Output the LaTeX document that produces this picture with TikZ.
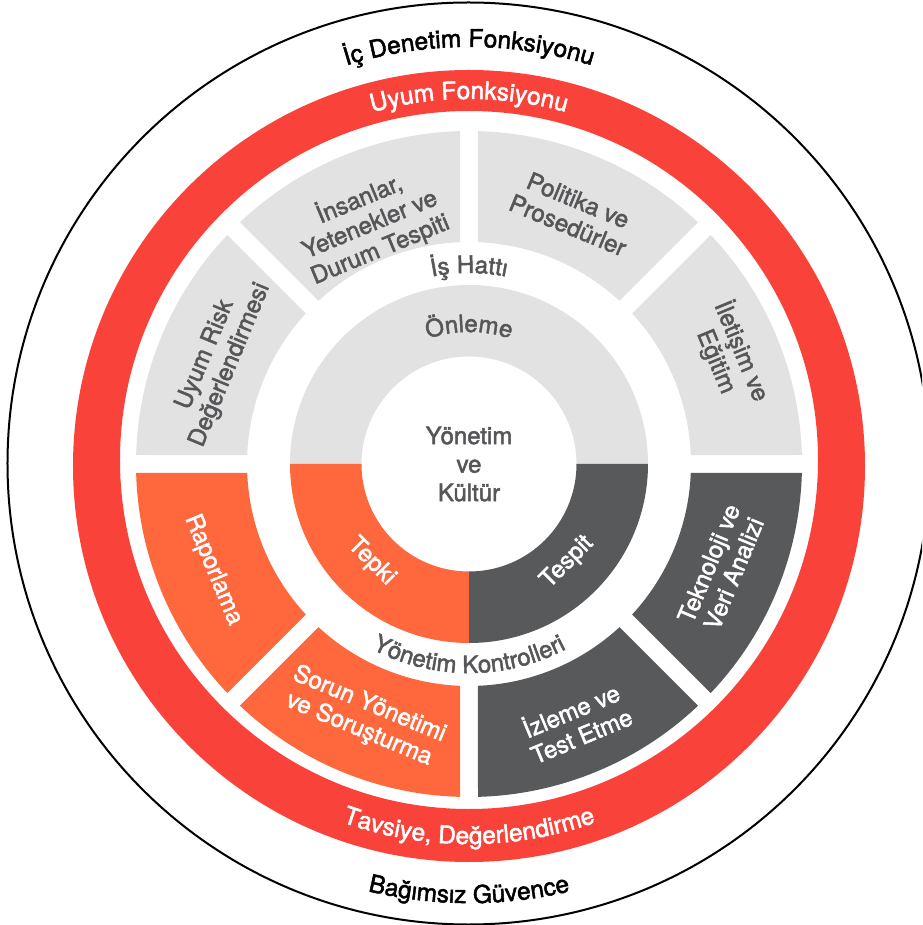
\documentclass[tikz,border=0pt]{standalone}
\usepackage{fontspec}
\setmainfont{TeX Gyre Heros}[FakeBold=2]
\usetikzlibrary{decorations.text}
\definecolor{ringred}{RGB}{249,66,58}
\definecolor{segorange}{RGB}{254,104,60}
\definecolor{segdark}{RGB}{88,89,91}
\definecolor{seggray}{RGB}{226,226,226}
\definecolor{txtgray}{RGB}{85,86,88}
\begin{document}
\begin{tikzpicture}[x=1pt,y=1pt,
  lbl/.style={font=\fontsize{24}{27}\selectfont, align=center, inner sep=0pt},
  graytxt/.style={lbl, text=txtgray},
  whitetxt/.style={lbl, text=white}]
\useasboundingbox (-469,-461) rectangle (453,464);
\clip (-469,-461) rectangle (453,464);

\draw[line width=2pt] (-0.5,0.5) circle[radius=461];
\fill[ringred, even odd rule] (0,-2) circle[radius=396] (0,4) circle[radius=349];

\fill[seggray] (1.55:333) arc[start angle=1.55, end angle=43.45, radius=333] -- (42.68:222) arc[start angle=42.68, end angle=2.32, radius=222] -- cycle;
\fill[seggray] (46.55:333) arc[start angle=46.55, end angle=88.45, radius=333] -- (87.68:222) arc[start angle=87.68, end angle=47.32, radius=222] -- cycle;
\fill[seggray] (91.55:333) arc[start angle=91.55, end angle=133.45, radius=333] -- (132.68:222) arc[start angle=132.68, end angle=92.32, radius=222] -- cycle;
\fill[seggray] (136.55:333) arc[start angle=136.55, end angle=178.45, radius=333] -- (177.68:222) arc[start angle=177.68, end angle=137.32, radius=222] -- cycle;
\fill[segorange] (181.55:333) arc[start angle=181.55, end angle=223.45, radius=333] -- (222.68:222) arc[start angle=222.68, end angle=182.32, radius=222] -- cycle;
\fill[segorange] (226.55:333) arc[start angle=226.55, end angle=268.45, radius=333] -- (267.68:222) arc[start angle=267.68, end angle=227.32, radius=222] -- cycle;
\fill[segdark] (271.55:333) arc[start angle=271.55, end angle=313.45, radius=333] -- (312.68:222) arc[start angle=312.68, end angle=272.32, radius=222] -- cycle;
\fill[segdark] (316.55:333) arc[start angle=316.55, end angle=358.45, radius=333] -- (357.68:222) arc[start angle=357.68, end angle=317.32, radius=222] -- cycle;

\fill[seggray] (0:179) arc[start angle=0, end angle=180, radius=179] -- (180:107.5) arc[start angle=180, end angle=0, radius=107.5] -- cycle;
\fill[segorange] (180:179) arc[start angle=180, end angle=270, radius=179] -- (270:107.5) arc[start angle=270, end angle=180, radius=107.5] -- cycle;
\fill[segdark] (270:179) arc[start angle=270, end angle=360, radius=179] -- (360:107.5) arc[start angle=360, end angle=270, radius=107.5] -- cycle;

\node[graytxt, font=\fontsize{24}{28.5}\selectfont] (core) at (0,0) {Yönetim\\ve\\Kültür};

\node[graytxt, rotate=22.5] (people) at (112.5:260) {İnsanlar,\\Yetenekler ve\\Durum Tespiti};
\node[graytxt, rotate=-22.5] (policy) at (67.5:272) {Politika ve\\Prosedürler};
\node[graytxt, rotate=67.5] (risk) at (157.5:272) {Uyum Risk\\Değerlendirmesi};
\node[graytxt, rotate=-67.5] (comm) at (22.5:282) {İletişim ve\\Eğitim};
\node[whitetxt, rotate=-67.5] (report) at (202.5:277) {Raporlama};
\node[whitetxt, rotate=67.5] (tech) at (337.5:273) {Teknoloji ve\\Veri Analizi};
\node[whitetxt, rotate=-22.5] (issue) at (247.5:274) {Sorun Yönetimi\\ve Soruşturma};
\node[whitetxt, rotate=22.5] (monitor) at (292.5:279) {İzleme ve\\Test Etme};
\node[whitetxt, rotate=-45] (response) at (225:138) {Tepki};
\node[whitetxt, rotate=45] (detect) at (315:139) {Tespit};

\path[decorate, decoration={text along path, text align=center,
  text={|\fontsize{24.5}{24}\selectfont|İç Denetim Fonksiyonu}}]
  (150:417) arc[start angle=150, end angle=30, radius=417];
\path[decorate, decoration={text along path, text align=center,
  text={|\fontsize{24.5}{24}\selectfont\color{white}|Uyum Fonksiyonu}}]
  (150:365) arc[start angle=150, end angle=30, radius=365];
\path[decorate, decoration={text along path, text align=center,
  text={|\fontsize{24}{24}\selectfont\color{txtgray}|İş Hattı}}]
  (150:191) arc[start angle=150, end angle=30, radius=191];
\path[decorate, decoration={text along path, text align=center,
  text={|\fontsize{24}{24}\selectfont\color{txtgray}|Önleme}}]
  (150:132) arc[start angle=150, end angle=30, radius=132];
\path[decorate, decoration={text along path, text align=center,
  text={|\fontsize{24}{24}\selectfont\color{txtgray}|Yönetim Kontrolleri}}]
  (210:209) arc[start angle=210, end angle=330, radius=209];
\path[decorate, decoration={text along path, text align=center,
  text={|\fontsize{24.5}{24}\selectfont\color{white}|Tavsiye, Değerlendirme}}]
  (210:380) arc[start angle=210, end angle=330, radius=380];
\path[decorate, decoration={text along path, text align=center,
  text={|\fontsize{24.5}{24}\selectfont|Bağımsız Güvence}}]
  (210:439) arc[start angle=210, end angle=330, radius=439];
\end{tikzpicture}
\end{document}
